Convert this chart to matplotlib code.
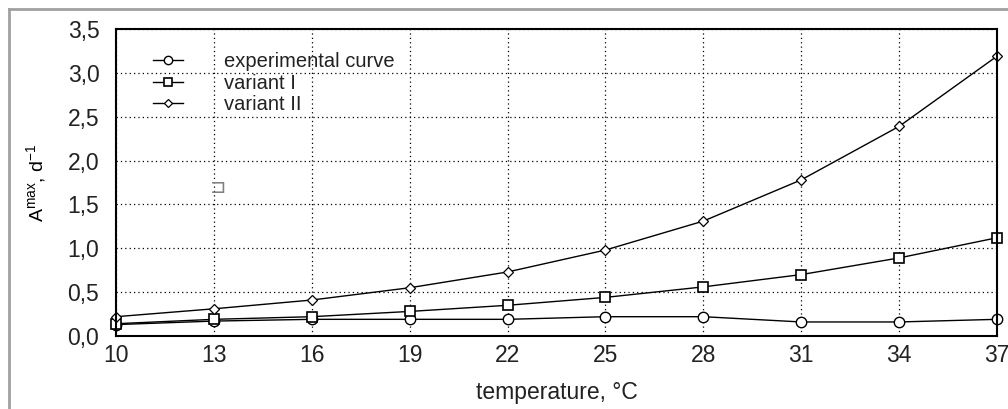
import numpy as np
import matplotlib.pyplot as plt
from matplotlib.lines import Line2D

plt.rcParams['font.family'] = ['Liberation Sans', 'DejaVu Sans']
plt.rcParams['mathtext.fontset'] = 'custom'
plt.rcParams['mathtext.rm'] = 'Liberation Sans'
plt.rcParams['mathtext.it'] = 'Liberation Sans'

# temperatures (deg C)
temperature = [10, 13, 16, 19, 22, 25, 28, 31, 34, 37]
# A max, 1/day
experimental = [0.13, 0.17, 0.19, 0.19, 0.19, 0.22, 0.22, 0.16, 0.16, 0.19]
variant_1 = [0.14, 0.19, 0.22, 0.28, 0.35, 0.44, 0.56, 0.70, 0.89, 1.12]
variant_2 = [0.22, 0.31, 0.41, 0.55, 0.73, 0.98, 1.31, 1.78, 2.39, 3.19]

yticks = [0.0, 0.5, 1.0, 1.5, 2.0, 2.5, 3.0, 3.5]
ytick_labels = ['0,0', '0,5', '1,0', '1,5', '2,0', '2,5', '3,0', '3,5']

fig = plt.figure(figsize=(10.08, 4.09), dpi=100)
ax = fig.add_axes([0.1151, 0.1785, 0.8740, 0.7506])

ax.plot(temperature, experimental, color='black', lw=1, marker='o', ms=7.5,
        mfc='white', mec='black', mew=1, label='experimental curve', clip_on=False)
ax.plot(temperature, variant_1, color='black', lw=1, marker='s', ms=7,
        mfc='white', mec='black', mew=1.2, label='variant I', clip_on=False)
ax.plot(temperature, variant_2, color='black', lw=1, marker='D', ms=5.5,
        mfc='white', mec='black', mew=0.9, label='variant II', clip_on=False)

ax.set_xlim(10, 37)
ax.set_ylim(0, 3.5)
ax.set_xticks(temperature)
ax.set_xticklabels([str(t) for t in temperature])
ax.set_yticks(yticks)
ax.set_yticklabels(ytick_labels)
ax.tick_params(length=0, labelsize=16.5, pad=6, labelcolor='#222222')
ax.tick_params(axis='y', pad=12)
ax.grid(True, color='black', linestyle=(0, (1, 2.5)), linewidth=0.9)
for s in ax.spines.values():
    s.set_linewidth(1.5)

ax.set_xlabel('temperature, °C', fontsize=16.5, labelpad=10, color='#222222')
ax.set_ylabel(r'$\mathrm{A}^{\mathrm{max}}$, d$^{-1}$', fontsize=14, labelpad=14)

leg = ax.legend(loc='upper left', bbox_to_anchor=(0.042, 0.924), frameon=False,
                fontsize=14.5, handlelength=1.5, handletextpad=2.0,
                labelspacing=0.12, borderaxespad=0, borderpad=0, markerscale=0.8)
for t in leg.get_texts():
    t.set_color('#222222')

# stray grey mark in the original image
ax.text(13.12, 1.69, '⊐', color='gray', fontsize=14, ha='center', va='center',
        family=['DejaVu Sans'])

# grey frame edges (top and left) of the original figure
fig.add_artist(Line2D([0.0089, 1.0], [0.978, 0.978], color='#a0a0a0', lw=2))
fig.add_artist(Line2D([0.0089, 0.0089], [0.0, 0.978], color='#a0a0a0', lw=2))

fig.savefig('out.png', dpi=100)
